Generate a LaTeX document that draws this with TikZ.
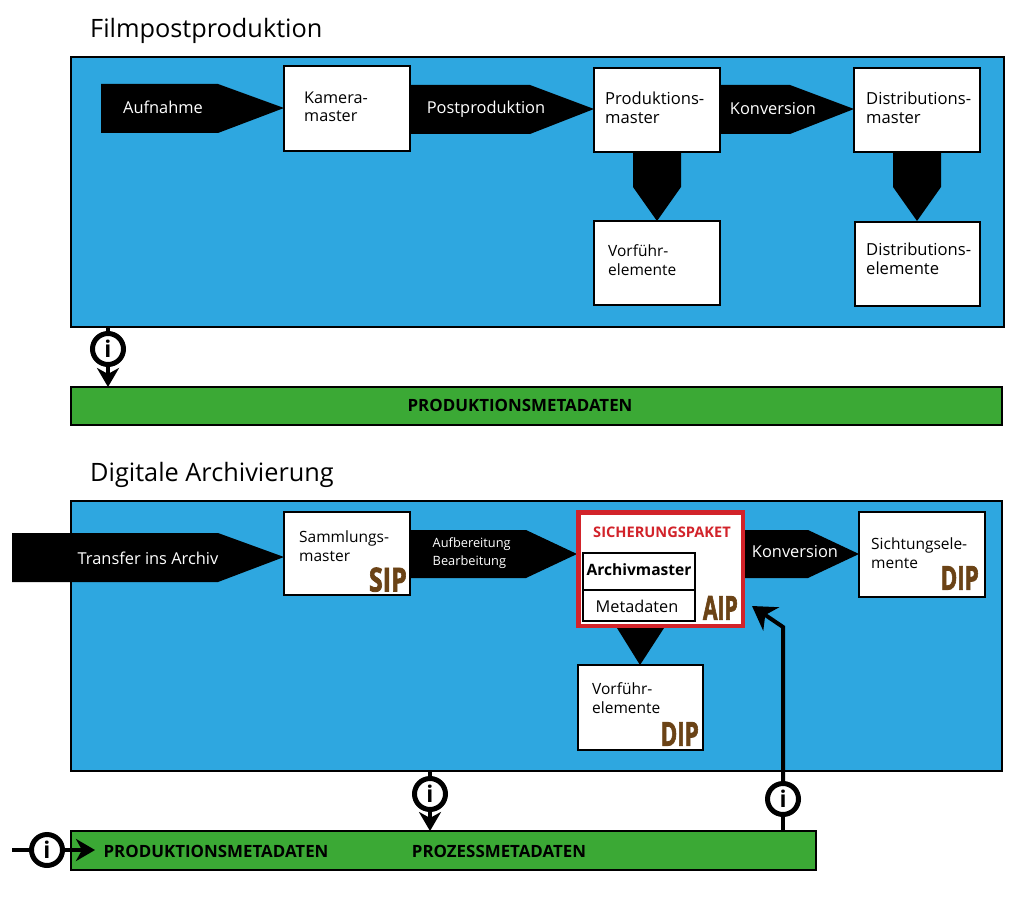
\documentclass[tikz,border=0pt]{standalone}
\usepackage{fontspec}
\setmainfont{Open Sans}
\newfontfamily\oaisfont[BoldFeatures={FakeBold=2.5}]{Open Sans}
\usetikzlibrary{arrows.meta,calc}
\definecolor{bluebg}{HTML}{2EA7E0}
\definecolor{greenbg}{HTML}{3BA935}
\definecolor{brownt}{HTML}{6B4316}
\definecolor{redb}{HTML}{D2232A}
\newcommand{\fs}[1]{\fontsize{#1}{18.5}\selectfont}
\tikzset{
 x=1pt,y=-1pt,
 panel/.style={draw=black,line width=2pt,fill=bluebg,inner sep=0pt,anchor=north west,xshift=-1pt,yshift=1pt},
 metabar/.style={draw=black,line width=2pt,fill=greenbg,inner sep=0pt,anchor=north west,xshift=-1pt,yshift=1pt},
 stage/.style={draw=black,line width=2pt,fill=white,inner sep=0pt,anchor=north west,xshift=-1pt,yshift=1pt},
 stagetext/.style={align=left,anchor=west,text=black,font=\fs{15.5},inner sep=0pt},
 stagewide/.style={stagetext,font=\fs{16.6}},
 arrowtext/.style={text=white,font=\fs{16.4},inner sep=0pt},
 arrowshape/.style={fill=black,draw=none},
 titletext/.style={font=\fs{25.3},anchor=base west,inner sep=0pt,text=black},
 bartext/.style={font=\bfseries\fs{16.9},inner sep=0pt,text=black},
 oais/.style={font=\oaisfont\bfseries\fs{33},text=brownt,inner sep=0pt,anchor=south east},
 infoc/.style={circle,draw=black,line width=5pt,fill=white,minimum size=31pt,inner sep=0pt,font=\bfseries\fs{23}},
 infoline/.style={draw=black,line width=4pt},
 infoarrow/.style={draw=black,line width=4pt,-{Stealth[length=19pt,width=22pt,inset=6pt]}},
 infoarrowbig/.style={draw=black,line width=4pt,-{Stealth[length=23pt,width=28pt,inset=7pt]}},
}
\newcommand{\oaistxt}[2][0.72]{\scalebox{#1}[1]{#2}}
\begin{document}
\begin{tikzpicture}
\useasboundingbox (0,0) rectangle (1024,896);
% titles
\node[titletext] (t1) at (90,38) {Filmpostproduktion};
\node[titletext] (t2) at (90,481) {Digitale Archivierung};
% panels
\node[panel,minimum width=933pt,minimum height=270pt] (p1) at (71,57) {};
\node[metabar,minimum width=931pt,minimum height=38pt] (m1) at (71,387) {};
\node[bartext] (m1t) at (520,405) {PRODUKTIONSMETADATEN};
\node[panel,minimum width=931pt,minimum height=270pt] (p2) at (71,501) {};
\node[metabar,minimum width=745pt,minimum height=39pt] (m2) at (71,831) {};
\node[bartext] (m2a) at (216,851) {PRODUKTIONSMETADATEN};
\node[bartext] (m2b) at (499,851) {PROZESSMETADATEN};
% top row arrows
\fill[arrowshape] (101,84)--(218,84)--(284,108)--(218,133)--(101,133)--cycle;
\node[arrowtext] (a1) at (163,107) {Aufnahme};
\fill[arrowshape] (410,85)--(530,85)--(594,109)--(530,134)--(410,134)--cycle;
\node[arrowtext] (a2) at (486,109) {Postproduktion};
\fill[arrowshape] (720,85)--(790,85)--(854,109)--(790,134)--(720,134)--cycle;
\node[arrowtext] (a3) at (773,109) {Konversion};
\fill[arrowshape] (633,152)--(681,152)--(681,187)--(657,221)--(633,187)--cycle;
\fill[arrowshape] (893,152)--(941,152)--(941,187)--(917,221)--(893,187)--cycle;
% top boxes
\node[stage,minimum width=126pt,minimum height=85pt] (b1) at (284,66) {};
\node[stagetext,font=\fs{16.2}] (b1t) at (304,107) {Kamera-\\master};
\node[stage,minimum width=126pt,minimum height=84pt] (b2) at (594,68) {};
\node[stagewide] (b2t) at (605,108) {Produktions-\\master};
\node[stage,minimum width=126pt,minimum height=84pt] (b3) at (854,68) {};
\node[stagewide] (b3t) at (866,108) {Distributions-\\master};
\node[stage,minimum width=126pt,minimum height=84pt] (b4) at (594,221) {};
\node[stagetext] (b4t) at (608,260) {Vorführ-\\elemente};
\node[stage,minimum width=125pt,minimum height=84pt] (b5) at (855,222) {};
\node[stagewide] (b5t) at (866,259) {Distributions-\\elemente};
% bottom row arrows
\fill[arrowshape] (12,533)--(218,533)--(284,557)--(218,582)--(12,582)--cycle;
\node[arrowtext] (a4) at (148,558) {Transfer ins Archiv};
\fill[arrowshape] (410,530)--(526,530)--(577,554)--(526,578)--(410,578)--cycle;
\node[arrowtext,align=left,anchor=west,font=\fs{12.8}] (a5) at (432.5,553) {Aufbereitung\\Bearbeitung};
\fill[arrowshape] (744,530)--(808,530)--(859,554)--(808,578)--(744,578)--cycle;
\node[arrowtext] (a6) at (795,552) {Konversion};
\fill[arrowshape] (617,628)--(664,628)--(640,665)--cycle;
% bottom boxes
\node[stage,minimum width=126pt,minimum height=83pt] (c1) at (284,512) {};
\node[stagetext] (c1t) at (299,546) {Sammlungs-\\master};
\node[oais] (c1o) at (407,592) {\oaistxt[0.76]{SIP}};
\node[stage,draw=redb,line width=4.5pt,minimum width=164.5pt,minimum height=113.5pt] (c2) at (577,511) {};
\node[inner sep=0pt,text=redb,font=\bfseries\fs{14.6}] (c2t) at (662,532) {SICHERUNGSPAKET};
\node[stage,line width=2pt,minimum width=112pt,minimum height=37pt] (c2a) at (583,553) {};
\node[inner sep=0pt,font=\bfseries\fs{15.6}] (c2at) at (639,570) {Archivmaster};
\node[stage,line width=2pt,minimum width=112pt,minimum height=31pt] (c2b) at (583,590) {};
\node[inner sep=0pt,font=\fs{16.3}] (c2bt) at (637,606) {Metadaten};
\node[oais] (c2o) at (738,620) {\oaistxt[0.64]{AIP}};
\node[stage,minimum width=126pt,minimum height=85pt] (c3) at (859,512) {};
\node[stagetext] (c3t) at (871,553) {Sichtungsele-\\mente};
\node[oais] (c3o) at (979,590) {\oaistxt[0.68]{DIP}};
\node[stage,minimum width=125pt,minimum height=85pt] (c4) at (578,665) {};
\node[stagetext] (c4t) at (592,698) {Vorführ-\\elemente};
\node[oais] (c4o) at (699,746) {\oaistxt[0.68]{DIP}};
% info connectors
\coordinate (f1a) at (108,327);
\coordinate (f1b) at (108,387);
\coordinate (f2a) at (430,771);
\coordinate (f2b) at (430,831);
\coordinate (f3a) at (783,831);
\coordinate (f3b) at (783,627);
\coordinate (f3c) at (752,606);
\coordinate (f4a) at (12,850);
\coordinate (f4b) at (95,850);
\node[infoc] (i1) at (108,349) {i};
\node[infoc] (i2) at (430,794) {i};
\node[infoc] (i3) at (783,799) {i};
\node[infoc] (i4) at (47,850) {i};
\draw[infoline] (f1a) -- (i1);
\draw[infoarrow] (i1) -- (f1b);
\draw[infoline] (f2a) -- (i2);
\draw[infoarrow] (i2) -- (f2b);
\draw[infoline] (f3a) -- (i3);
\draw[infoarrowbig] (i3) -- (f3b) -- (f3c);
\draw[infoline] (f4a) -- (i4);
\draw[infoarrow] (i4) -- (f4b);
\end{tikzpicture}
\end{document}
